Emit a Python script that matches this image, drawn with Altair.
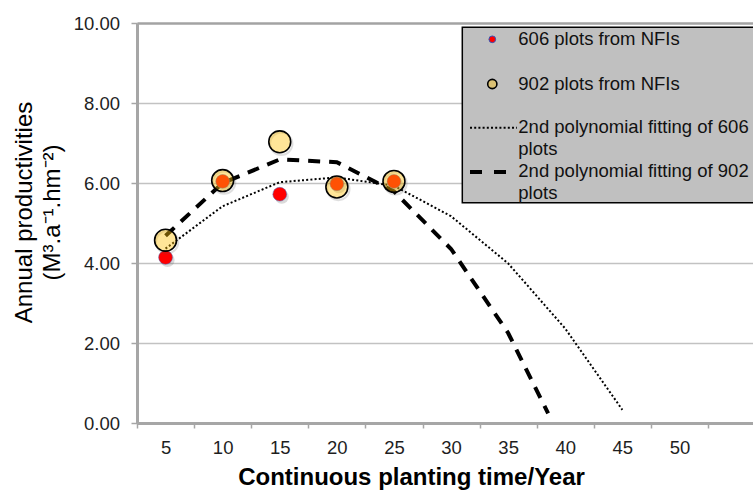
import altair as alt
import pandas as pd

# ---------------- data ----------------
years = [5, 10, 15, 20, 25]
plots_606 = [4.14, 6.04, 5.72, 5.98, 6.04]
plots_902 = [4.57, 6.06, 7.03, 5.90, 6.04]

fit606_x = [5, 10, 15, 20, 25, 30, 35, 40, 45]
fit606_y = [4.36, 5.42, 6.02, 6.14, 5.93, 5.17, 3.99, 2.36, 0.33]

fit902_x = [5, 10, 15, 20, 25, 30, 35, 38.5]
fit902_y = [4.68, 6.00, 6.59, 6.52, 5.79, 4.35, 2.25, 0.24]

x_tick_values = [5, 10, 15, 20, 25, 30, 35, 40, 45, 50, 55]
y_tick_values = [0, 2, 4, 6, 8, 10]

legend_labels = [
    ["606 plots from NFIs"],
    ["902 plots from NFIs"],
    ["2nd polynomial fitting of 606", "plots"],
    ["2nd polynomial fitting of 902", "plots"],
]

x_title = "Continuous planting time/Year"
y_title = ["Annual productivities", "(M\u00b3.a\u207b\u00b9.hm\u207b\u00b2)"]

# ---------------- layout / style ----------------
FONT = "Liberation Sans"
W, H = 616, 400
RED = "#FF0000"
YELLOW = "#FFC00A"
YELLOW_OP = 0.42

xscale = alt.Scale(domain=[2.5, 56.44], nice=False, zero=False)
yscale = alt.Scale(domain=[0, 10], nice=False, zero=True)

pts606 = pd.DataFrame({"year": years, "value": plots_606})
pts902 = pd.DataFrame({"year": years, "value": plots_902})
fit606 = pd.DataFrame({"year": fit606_x, "value": fit606_y})
fit902 = pd.DataFrame({"year": fit902_x, "value": fit902_y})

x_axis = alt.Axis(
    values=x_tick_values,
    tickOffset=-28.55,
    labelOffset=28.55,
    labelExpr="datum.value > 50 ? '' : datum.label",
    grid=False,
    domainColor="#A6A6A6",
    domainWidth=3,
    tickColor="#A6A6A6",
    tickWidth=1.5,
    tickSize=5,
    labelFont=FONT,
    labelFontSize=18.5,
    labelColor="#1E1E1E",
    labelPadding=10.5,
    labelFlush=False,
    labelOverlap=False,
    title=x_title,
    titleFont=FONT,
    titleFontSize=24,
    titleFontWeight="bold",
    titleColor="#000000",
    titleX=274,
    titleY=61,
    titleAlign="center",
    titleBaseline="alphabetic",
)

y_axis = alt.Axis(
    values=y_tick_values,
    format=".2f",
    grid=True,
    gridColor={"condition": {"test": "datum.value == 10", "value": "#A3A3A3"}, "value": "#C2C2C2"},
    gridWidth={"condition": {"test": "datum.value == 10", "value": 2.5}, "value": 1.5},
    domainColor="#A6A6A6",
    domainWidth=3,
    tickColor="#A6A6A6",
    tickWidth=1.5,
    tickSize=6,
    labelFont=FONT,
    labelFontSize=18.5,
    labelColor="#1E1E1E",
    labelPadding=11.5,
    title=y_title,
    titleFont=FONT,
    titleFontSize=24,
    titleFontWeight="normal",
    titleColor="#000000",
    titleLineHeight=28,
    titleAngle=270,
    titleX=-113,
    titleY=189,
    titleAlign="center",
    titleBaseline="middle",
)

X = alt.X("year:Q", scale=xscale, axis=x_axis)
Y = alt.Y("value:Q", scale=yscale, axis=y_axis)

line606 = alt.Chart(fit606).mark_line(
    color="black", strokeWidth=2, strokeDash=[2, 2.2]
).encode(x=X, y=Y, order="year:Q")

line902 = alt.Chart(fit902).mark_line(
    color="black", strokeWidth=4, strokeDash=[12, 9]
).encode(x=X, y=Y, order="year:Q")

shadow606 = alt.Chart(pts606).mark_circle(
    color="#555555", opacity=0.22, size=200, xOffset=2, yOffset=2.5
).encode(x=X, y=Y)

dots606 = alt.Chart(pts606).mark_circle(
    color=RED, opacity=1, size=190, stroke="#4A5FB0", strokeWidth=0.5
).encode(x=X, y=Y)

shadow902 = alt.Chart(pts902).mark_point(
    shape="circle", filled=False, stroke="#555555", strokeWidth=2,
    opacity=0.18, size=500, xOffset=1.5, yOffset=2
).encode(x=X, y=Y)

dots902 = alt.Chart(pts902).mark_point(
    shape="circle", filled=True, fill=YELLOW, fillOpacity=YELLOW_OP,
    stroke="black", strokeWidth=1.6, strokeOpacity=1, opacity=1, size=480
).encode(x=X, y=Y)

# ---------------- manual legend ----------------
one = pd.DataFrame({"k": [0]})
LX0, LY0, LY1 = 325.3, 4.3, 179.7
box = alt.Chart(one).mark_rect(
    fill="#C0C0C0", stroke="black", strokeWidth=1.5
).encode(x=alt.value(LX0), x2=alt.value(W + 30), y=alt.value(LY0), y2=alt.value(LY1))

text_x = 381.3
row_y = [16.3, 61.0, 103.7, 147.5]
line_h = 22.5
trows = []
for i, lines in enumerate(legend_labels):
    for j, t in enumerate(lines):
        trows.append({"t": t, "py": row_y[i] + j * line_h})
leg_text = alt.Chart(pd.DataFrame(trows)).mark_text(
    align="left", baseline="middle", font=FONT, fontSize=18.5, color="#111111"
).encode(x=alt.value(text_x), y=alt.value(0), yOffset=alt.YOffset("py:Q", scale=None), text="t:N")

leg_red = alt.Chart(one).mark_circle(
    color=RED, opacity=1, size=45, stroke="#3355BB", strokeWidth=1
).encode(x=alt.value(355.3), y=alt.value(row_y[0]))
leg_yel = alt.Chart(one).mark_point(
    shape="circle", filled=True, fill=YELLOW, fillOpacity=YELLOW_OP,
    stroke="black", strokeWidth=1.6, strokeOpacity=1, opacity=1, size=85
).encode(x=alt.value(355.3), y=alt.value(row_y[1]))
leg_dot = alt.Chart(one).mark_rule(
    color="black", strokeWidth=2, strokeDash=[2, 2.2]
).encode(x=alt.value(333), x2=alt.value(380), y=alt.value(row_y[2] + 1))
leg_dash = alt.Chart(one).mark_rule(
    color="black", strokeWidth=4, strokeDash=[12, 12]
).encode(x=alt.value(333), x2=alt.value(370), y=alt.value(row_y[3] + 1.5))

chart = alt.layer(
    line606, line902, shadow606, dots606, shadow902, dots902,
    box, leg_text, leg_red, leg_yel, leg_dot, leg_dash,
).properties(
    width=W,
    height=H,
    padding={"left": 137, "top": 23, "right": 0, "bottom": 67},
    autosize=alt.AutoSizeParams(type="none"),
).configure_view(stroke=None).configure(background="white")

chart.save("out.html", embed_options={"renderer": "svg", "actions": False})
